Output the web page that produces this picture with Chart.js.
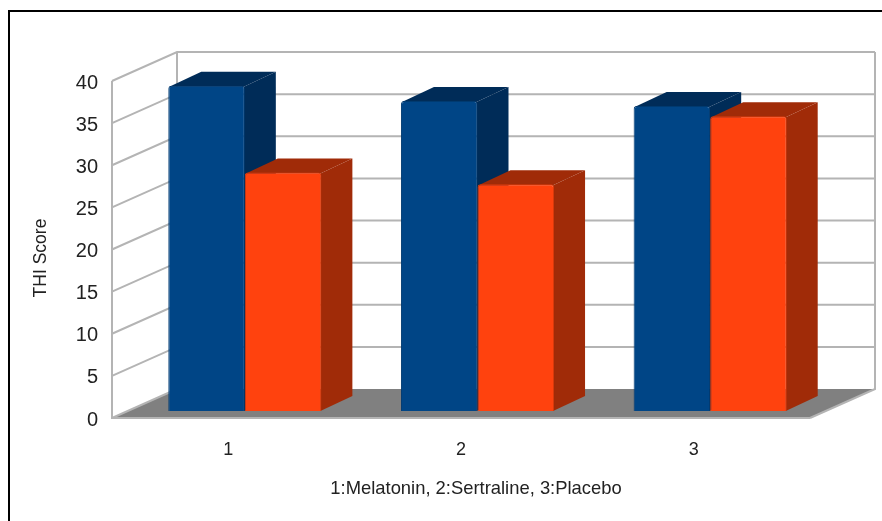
<!doctype html>
<html lang="en">
  <head>
    <meta charset="utf-8">
    <title>THI Score</title>
    <style>
      * { margin: 0; padding: 0; }
      body { background: #fff; }
      canvas { display: block; }
    </style>
  </head>
  <body>
    <canvas id="myChart" width="882" height="521"></canvas>
    <script src="https://cdn.jsdelivr.net/npm/chart.js"></script>
    <script>
const categories = ['1', '2', '3'];
const seriesBlue = [38.6, 36.8, 36.2];
const seriesOrange = [28.3, 26.9, 35.0];
const yTicks = [0, 5, 10, 15, 20, 25, 30, 35, 40];
const yTitle = 'THI Score';
const xTitle = '1:Melatonin, 2:Sertraline, 3:Placebo';

// depth of the box, of the bars, and where the bars sit inside the box
const box = { dx: 65, dy: -29, lift: -2 };
const barDepth = { dx: 32, dy: -15 };
const barShift = { dx: 16.5, dy: -9 };

const sideColors = ['#002c58', '#a02b08'];
const gridColor = '#b4b4b4';
const textColor = '#222';
const fontName = '"Liberation Sans", Arial, sans-serif';

function poly(ctx, pts, fill) {
  ctx.beginPath();
  pts.forEach((p, i) => i ? ctx.lineTo(p[0], p[1]) : ctx.moveTo(p[0], p[1]));
  ctx.closePath();
  ctx.fillStyle = fill;
  ctx.fill();
}

const box3d = {
  id: 'box3d',
  beforeDatasetsDraw(chart) {
    const ctx = chart.ctx;
    const { left, right } = chart.chartArea;
    const y = chart.scales.y;
    const y0 = y.getPixelForValue(0) + box.lift;
    const yMax = y.getPixelForValue(40) + box.lift;
    const backL = left + box.dx;
    const backR = right + box.dx;

    ctx.save();
    poly(ctx, [[left, y0], [right, y0], [backR, y0 + box.dy], [backL, y0 + box.dy]], '#808080');

    ctx.strokeStyle = gridColor;
    ctx.lineWidth = 2;
    ctx.beginPath();
    yTicks.forEach(t => {
      const py = y.getPixelForValue(t) + box.lift;
      ctx.moveTo(left, py);
      ctx.lineTo(backL, py + box.dy);
      if (t > 0) ctx.lineTo(backR, py + box.dy);
    });
    ctx.moveTo(left, yMax);
    ctx.lineTo(left, y0);
    ctx.lineTo(right, y0);
    ctx.moveTo(backL, yMax + box.dy);
    ctx.lineTo(backL, y0 + box.dy);
    ctx.moveTo(backR, yMax + box.dy);
    ctx.lineTo(backR, y0 + box.dy);
    ctx.lineTo(right, y0);
    ctx.stroke();
    ctx.restore();

    // blue goes first so the orange bars sit in front of its side faces
    chart.getSortedVisibleDatasetMetas().forEach(meta => {
      ctx.save();
      ctx.translate(barShift.dx, barShift.dy);
      const side = sideColors[meta.index];
      meta.data.forEach(bar => {
        const l = bar.x - bar.width / 2 + 1;
        const r = bar.x + bar.width / 2 - 1;
        const top = bar.y + 1;
        const d = barDepth;
        poly(ctx, [[r, top], [r + d.dx, top + d.dy], [r + d.dx, bar.base + d.dy], [r, bar.base]], side);
        poly(ctx, [[l, top], [l + d.dx, top + d.dy], [r + d.dx, top + d.dy], [r, top]], side);
      });
      meta.controller.draw();
      ctx.restore();
    });
    return false;
  },
  afterDraw(chart) {
    const ctx = chart.ctx;
    ctx.save();
    // frame runs along the top and left only
    ctx.strokeStyle = '#000';
    ctx.lineWidth = 2;
    ctx.beginPath();
    ctx.moveTo(882, 11);
    ctx.lineTo(9, 11);
    ctx.lineTo(9, 521);
    ctx.stroke();

    ctx.fillStyle = textColor;
    ctx.textAlign = 'center';
    ctx.textBaseline = 'middle';
    ctx.font = '18.4px ' + fontName;
    ctx.fillText(xTitle, 476, 489);
    ctx.translate(41, 258);
    ctx.rotate(-Math.PI / 2);
    ctx.font = '17.5px ' + fontName;
    ctx.fillText(yTitle, 0, 0);
    ctx.restore();
  }
};

const myChart = new Chart(document.getElementById('myChart'), {
  type: 'bar',
  data: {
    labels: categories,
    datasets: [
      { data: seriesBlue, backgroundColor: '#004586', borderColor: '#003a70', borderWidth: 1, borderRadius: 3, categoryPercentage: 0.658, barPercentage: 1 },
      { data: seriesOrange, backgroundColor: '#ff420e', borderColor: '#d93a0c', borderWidth: 1, borderRadius: 3, categoryPercentage: 0.658, barPercentage: 1 }
    ]
  },
  options: {
    responsive: false,
    animation: false,
    layout: { padding: { top: 83, right: 72, bottom: 0, left: 0 } },
    plugins: { legend: { display: false }, tooltip: { enabled: false } },
    scales: {
      x: {
        grid: { display: false, drawTicks: false },
        border: { display: false },
        ticks: { padding: 19, color: textColor, font: { family: fontName, size: 18 } },
        afterFit: s => { s.height = 101; }
      },
      y: {
        min: 0,
        max: 40,
        grid: { display: false, drawTicks: false },
        border: { display: false },
        ticks: {
          stepSize: 5,
          padding: 14,
          color: textColor,
          font: { family: fontName, size: 20 }
        },
        afterFit: s => { s.width = 112; }
      }
    }
  },
  plugins: [box3d]
});
    </script>
  </body>
</html>
